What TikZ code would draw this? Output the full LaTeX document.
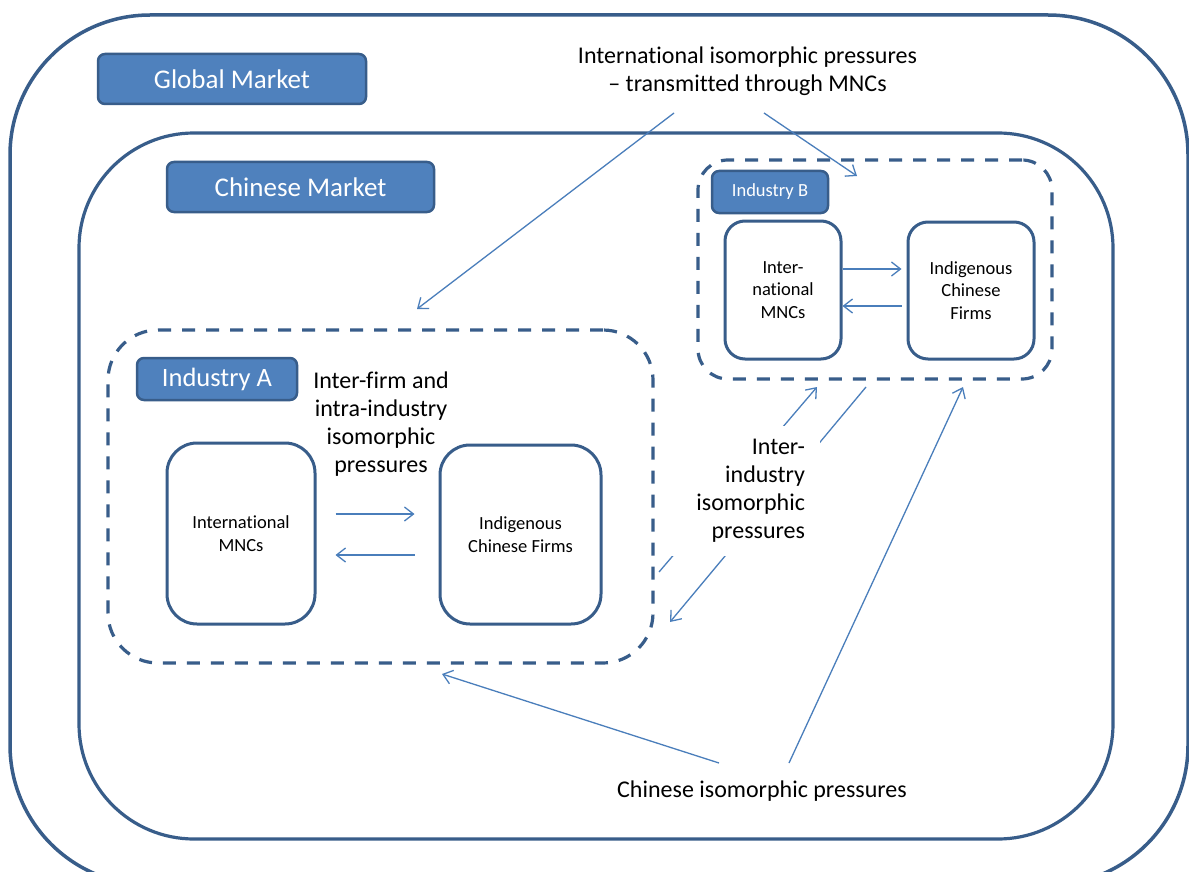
\documentclass[tikz,border=0pt]{standalone}
\usepackage{fontspec}
\setmainfont{Carlito}[Ligatures=NoCommon]
\usetikzlibrary{arrows.meta}
\definecolor{bdr}{HTML}{385D8A}
\definecolor{acc}{HTML}{4F81BD}
\definecolor{arw}{HTML}{4A7EBB}
\begin{document}
\begin{tikzpicture}[x=1pt,y=-1pt,
  frame/.style={draw=bdr, line width=3.2pt, rounded corners=#1, inner sep=0pt, anchor=center},
  dbox/.style={draw=bdr, line width=3.2pt, dash pattern=on 13pt off 11pt, rounded corners=#1, inner sep=0pt, anchor=center},
  firm/.style={draw=bdr, line width=3pt, rounded corners=#1, inner sep=0pt, anchor=center, align=center, fill=white},
  lab/.style={draw=bdr, fill=acc, line width=2.5pt, rounded corners=7pt, text=white, inner sep=0pt, anchor=center},
  arr/.style={draw=arw, line width=1.3pt, -{Straight Barb[length=9pt,width=14pt,line width=1.3pt]}},
  big/.style={font=\fontsize{24}{28}\selectfont},
  small/.style={font=\fontsize{18.5}{22.5}\selectfont}
]
\useasboundingbox (0,0) rectangle (1189,872);
\clip (0,0) rectangle (1189,872);
\fill[white] (0,0) rectangle (1189,872);

% outer frames
\node[frame=140pt, line width=3.5pt, minimum width=1178pt, minimum height=870pt] (world) at (599,450) {};
\node[frame=115pt, minimum width=1034pt, minimum height=706pt] (china) at (596,486) {};

% labels
\node[lab, minimum width=268pt, minimum height=50pt, font=\fontsize{27}{31}\selectfont] (glob) at (232,79) {Global Market};
\node[lab, minimum width=267pt, minimum height=50pt, font=\fontsize{27}{31}\selectfont] (chin) at (300.5,187) {Chinese Market};

% industry frames
\node[dbox=30pt, minimum width=354pt, minimum height=219pt] (indB) at (875,269.5) {};
\node[dbox=50pt, minimum width=545pt, minimum height=333pt] (indA) at (380.5,496.5) {};

\node[lab, minimum width=116pt, minimum height=42pt, font=\fontsize{18.5}{22}\selectfont] (labB) at (770,192) {Industry B};
\node[lab, minimum width=160pt, minimum height=42pt, font=\fontsize{26.5}{30}\selectfont] (labA) at (217,379) {Industry A};

% firms
\node[firm=30pt, small, minimum width=148pt, minimum height=181pt] (mncA) at (241,533.5) {International\\MNCs};
\node[firm=30pt, small, minimum width=161pt, minimum height=179pt] (icfA) at (520.5,534.5) {Indigenous\\Chinese Firms};
\node[firm=20pt, small, minimum width=116pt, minimum height=138pt] (mncB) at (783,290) {Inter-\\national\\MNCs};
\node[firm=20pt, small, minimum width=126pt, minimum height=137pt] (icfB) at (971,290.5) {Indigenous\\Chinese\\Firms};

% arrows inside industries
\draw[arr, shorten <=19pt, shorten >=24pt] ([yshift=19.5pt]mncA.east) -- ([yshift=19.5pt]mncA.east -| icfA.west);
\draw[arr, shorten <=24pt, shorten >=19pt] ([yshift=-21.5pt]mncA.east -| icfA.west) -- ([yshift=-21.5pt]mncA.east);
\draw[arr, shorten >=5pt] ([yshift=21pt]mncB.east) -- ([yshift=21pt]mncB.east -| icfB.west);
\draw[arr, shorten <=5pt] ([yshift=-16pt]mncB.east -| icfB.west) -- ([yshift=-16pt]mncB.east);

\node[big, align=center] (intra) at (381,424) {Inter-firm and\\intra-industry\\isomorphic\\pressures};

% international pressures
\node[big, align=center] (intl) at (747.5,71) {International isomorphic pressures\\– transmitted through MNCs};
\coordinate (iA) at (674,113);
\coordinate (iB) at (764,113);
\coordinate (hA) at (417,309);
\coordinate (hB) at (857,176);
\draw[arr] (iA) -- (hA);
\draw[arr] (iB) -- (hB);

% inter-industry pressures
\coordinate (a1s) at (659,572);
\coordinate (a1e) at (817,387);
\coordinate (a2s) at (866,387);
\coordinate (a2e) at (670,622);
\draw[arr] (a1s) -- (a1e);
\draw[arr] (a2s) -- (a2e);
\node[big, fill=white, text width=125pt, inner xsep=15pt, inner ysep=0pt, minimum height=130pt, align=right] (inter) at (742.5,491) {Inter-\\industry\\isomorphic\\pressures};

% chinese pressures
\node[big] (cip) at (762,791) {Chinese isomorphic pressures};
\coordinate (c1s) at (719,763);
\coordinate (c1e) at (442,674);
\coordinate (c2s) at (789,763);
\coordinate (c2e) at (963,387);
\draw[arr] (c1s) -- (c1e);
\draw[arr] (c2s) -- (c2e);
\end{tikzpicture}
\end{document}
